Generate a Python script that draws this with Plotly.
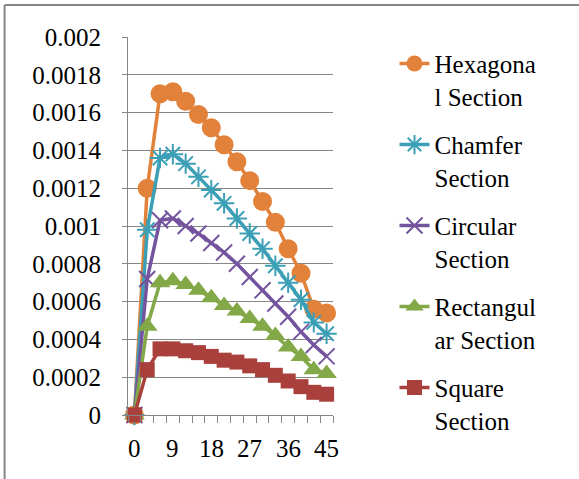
import plotly.graph_objects as go

x_values = [0, 3, 6, 9, 12, 15, 18, 21, 24, 27, 30, 33, 36, 39, 42, 45]
x_tick_vals = [0, 9, 18, 27, 36, 45]

hexagonal = [0, 0.00120, 0.00170, 0.00171, 0.00166, 0.00159, 0.00152, 0.00143, 0.00134,
             0.00124, 0.00113, 0.00102, 0.00088, 0.00075, 0.00056, 0.00054]
chamfer = [0, 0.00098, 0.00136, 0.00138, 0.00133, 0.00126, 0.00119, 0.00112, 0.00104,
           0.00096, 0.00088, 0.00079, 0.00070, 0.00061, 0.00049, 0.00043]
circular = [0, 0.00072, 0.00103, 0.00104, 0.00100, 0.00096, 0.00091, 0.00086, 0.00080,
            0.00073, 0.00066, 0.00059, 0.00052, 0.00044, 0.00037, 0.00031]
rectangular = [0, 0.00047, 0.00070, 0.00071, 0.00069, 0.00066, 0.00062, 0.00058, 0.00055,
               0.00051, 0.00047, 0.00042, 0.00036, 0.00031, 0.00024, 0.00022]
square = [0, 0.00024, 0.00035, 0.00035, 0.00034, 0.00033, 0.00031, 0.00029, 0.00028,
          0.00026, 0.00024, 0.00021, 0.00018, 0.00015, 0.00012, 0.00011]

series_names = ["Hexagona<br>l Section", "Chamfer<br>Section", "Circular<br>Section",
                "Rectangul<br>ar Section", "Square<br>Section"]

y_tick_vals = [0, 0.0002, 0.0004, 0.0006, 0.0008, 0.001, 0.0012, 0.0014, 0.0016, 0.0018, 0.002]
y_tick_text = ["0", "0.0002", "0.0004", "0.0006", "0.0008", "0.001", "0.0012", "0.0014",
               "0.0016", "0.0018", "0.002"]

FONT = "Liberation Serif, Times New Roman, serif"
AXIS_GRAY = "#868686"

styles = [
    dict(color="#E2823A", symbol="circle", size=19, mline=0),
    dict(color="#3B9FB6", symbol="asterisk-open", size=17, mline=2),
    dict(color="#74549E", symbol="x-thin-open", size=16, mline=2),
    dict(color="#83A847", symbol="triangle-up", size=18, mline=0),
    dict(color="#A9403C", symbol="square", size=15, mline=0),
]
data = [hexagonal, chamfer, circular, rectangular, square]

fig = go.Figure()
for i, (name, ys, st) in enumerate(zip(series_names, data, styles)):
    mk = dict(symbol=st["symbol"], size=st["size"], color=st["color"])
    if st["mline"]:
        mk["line"] = dict(color=st["color"], width=st["mline"])
    fig.add_trace(go.Scatter(
        x=x_values, y=ys, name=name, mode="lines+markers",
        line=dict(color=st["color"], width=3.5),
        marker=mk, legendgroup=str(i), cliponaxis=False,
    ))

# category boundaries (tick marks sit between categories, as on a category axis)
boundaries = [v - 1.5 for v in x_values] + [x_values[-1] + 1.5]
x_range = [boundaries[0], boundaries[-1]]

# x tick labels at the category centres
annotations = [
    dict(x=v, y=0, xref="x", yref="paper", text=str(v), showarrow=False,
         xanchor="center", yanchor="middle", yshift=-33,
         font=dict(family=FONT, size=25, color="black"))
    for v in x_tick_vals
]

fig.update_layout(
    width=579, height=479,
    margin=dict(l=128, r=246, t=37, b=64),
    paper_bgcolor="white", plot_bgcolor="white",
    font=dict(family=FONT, size=25, color="black"),
    showlegend=True,
    legend=dict(
        x=1.30, y=0.99, xanchor="left", yanchor="top",
        font=dict(family=FONT, size=25, color="black"),
        valign="top", tracegroupgap=13, bgcolor="rgba(0,0,0,0)",
        maxheight=470,
    ),
    xaxis=dict(
        range=x_range,
        tickmode="array", tickvals=boundaries, ticktext=[""] * len(boundaries),
        ticks="outside", ticklen=7, tickcolor=AXIS_GRAY, tickwidth=1,
        showgrid=False, zeroline=False,
        showline=True, linecolor=AXIS_GRAY, linewidth=1,
    ),
    yaxis=dict(
        range=[0, 0.002],
        tickmode="array", tickvals=y_tick_vals, ticktext=y_tick_text,
        ticks="outside", ticklen=5, tickcolor=AXIS_GRAY,
        showgrid=True, gridcolor=AXIS_GRAY, gridwidth=1,
        zeroline=False, showline=True, linecolor=AXIS_GRAY, linewidth=1,
        ticklabelstandoff=16,
    ),
    annotations=annotations,
    shapes=[
        dict(type="line", xref="paper", yref="paper", x0=-0.602, x1=2.5,
             y0=1.0847, y1=1.0847, line=dict(color=AXIS_GRAY, width=2)),
        dict(type="line", xref="paper", yref="paper", x0=-0.602, x1=-0.602,
             y0=1.0847, y1=-1, line=dict(color=AXIS_GRAY, width=2)),
    ],
)

fig.write_html("out.html")
